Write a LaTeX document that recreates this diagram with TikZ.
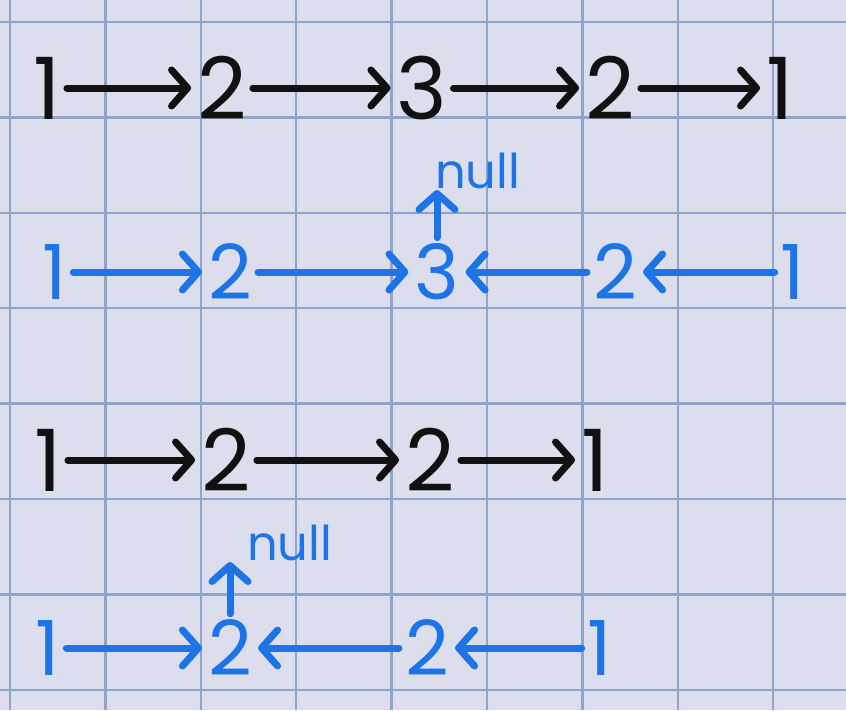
\documentclass[tikz,border=0pt]{standalone}
\usepackage{fontspec}
\setmainfont{Poppins}
\usetikzlibrary{positioning, arrows.meta, calc}
\definecolor{paper}{HTML}{DCDEEE}
\definecolor{gridline}{HTML}{8FA4CB}
\definecolor{inkblue}{HTML}{1C74E6}
\definecolor{inkblack}{HTML}{111111}

\tikzset{
  digit/.style={inner sep=6pt, font=\fontsize{86}{86}\selectfont},
  blackdigit/.style={digit, text=inkblack},
  bluedigit/.style={digit, text=inkblue, font=\fontsize{76}{76}\selectfont},
  nulltag/.style={inner sep=1pt, text=inkblue, font=\fontsize{48}{48}\selectfont},
  link/.style={line width=7pt, line cap=round, -{Straight Barb[length=16pt, width=36pt, round]}},
  blacklink/.style={link, draw=inkblack},
  bluelink/.style={link, draw=inkblue}
}

\begin{document}
\begin{tikzpicture}[x=1pt, y=-1pt]
% paper and grid
\fill[paper] (0,0) rectangle (846,710);
\useasboundingbox (0,0) rectangle (846,710);
\foreach \gx in {0,...,8} \draw[gridline, line width=2.3pt] ({10+95.4*\gx},0) -- ({10+95.4*\gx},710);
\foreach \gy in {0,...,7} \draw[gridline, line width=2.3pt] (0,{22+95.4*\gy}) -- (846,{22+95.4*\gy});

% row 1
\node[blackdigit] (ra) at (47,88) {1};
\node[blackdigit] (rb) at (222,88) {2};
\node[blackdigit] (rc) at (422,88) {3};
\node[blackdigit] (rd) at (610,88) {2};
\node[blackdigit] (re) at (780,88) {1};
\draw[blacklink] (ra) -- (rb);
\draw[blacklink] (rb) -- (rc);
\draw[blacklink] (rc) -- (rd);
\draw[blacklink] (rd) -- (re);

% row 2
\node[bluedigit] (sa) at (55,272) {1};
\node[bluedigit] (sb) at (230,272) {2};
\node[bluedigit] (sc) at (437,272) {3};
\node[bluedigit] (sd) at (615,272) {2};
\node[bluedigit] (se) at (793,272) {1};
\node[nulltag, anchor=south west] (snull) at (434,190) {null};
\draw[bluelink] (sa) -- (sb);
\draw[bluelink] (sb) -- (sc);
\draw[bluelink] (sd) -- (sc);
\draw[bluelink] (se) -- (sd);
\draw[bluelink] (sc.north) -- (sc.north |- snull.south);

% row 3
\node[blackdigit] (ta) at (48,460) {1};
\node[blackdigit] (tb) at (226,460) {2};
\node[blackdigit] (tc) at (430,460) {2};
\node[blackdigit] (td) at (595,460) {1};
\draw[blacklink] (ta) -- (tb);
\draw[blacklink] (tb) -- (tc);
\draw[blacklink] (tc) -- (td);

% row 4
\node[bluedigit] (ua) at (48,648) {1};
\node[bluedigit] (ub) at (230,648) {2};
\node[bluedigit] (uc) at (427,648) {2};
\node[bluedigit] (ud) at (600,648) {1};
\node[nulltag, anchor=south west] (unull) at (246,562) {null};
\draw[bluelink] (ua) -- (ub);
\draw[bluelink] (uc) -- (ub);
\draw[bluelink] (ud) -- (uc);
\draw[bluelink] (ub.north) -- (ub.north |- unull.south);
\end{tikzpicture}
\end{document}
